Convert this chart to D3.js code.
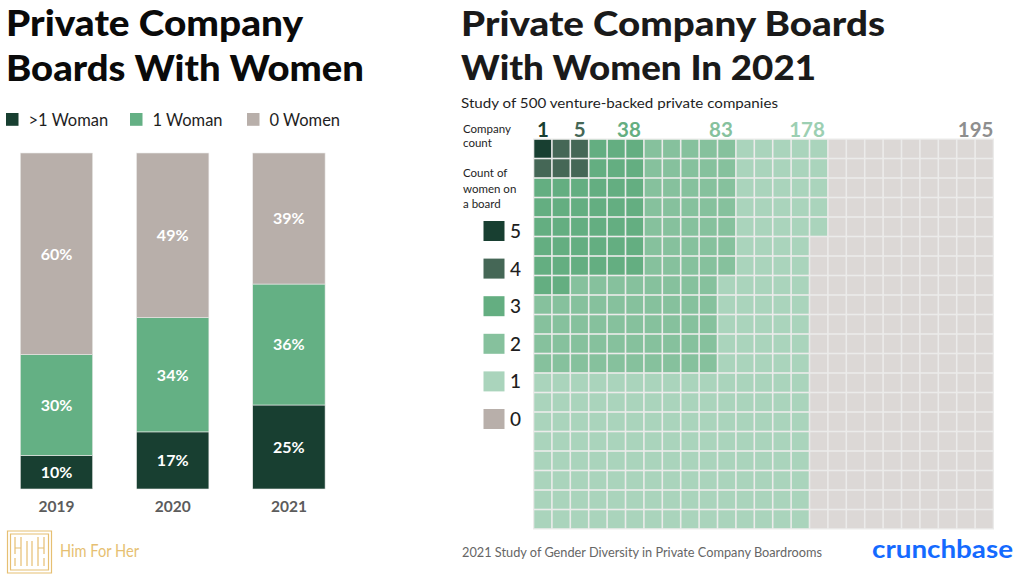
<!DOCTYPE html>
<html><head><meta charset="utf-8">
<script src="https://cdn.jsdelivr.net/npm/d3@7"></script>
<style>
html,body{margin:0;padding:0;background:#fff;}
svg{display:block;font-family:Lato,"Noto Sans",sans-serif;}
</style></head>
<body><svg id="c" width="1024" height="578"></svg>
<script>
// ---------- data: left chart ----------
const years = ["2019", "2020", "2021"];
const seriesNames = [">1 Woman", "1 Woman", "0 Women"];
const moreThanOne = [10, 17, 25];
const oneWoman = [30, 34, 36];
const zeroWomen = [60, 49, 39];
const barColors = ["#183f31", "#64b084", "#b8afaa"];

// ---------- data: waffle ----------
const womenLevels = [5, 4, 3, 2, 1, 0];
const companyCounts = [1, 5, 38, 83, 178, 195];
const levelColors = ["#183f31", "#456756", "#64ae81", "#86c19d", "#aad4bc", "#dcd8d6"];
const legendColors = ["#183f31", "#456756", "#64ae81", "#86c19d", "#aad4bc", "#b8afaa"];
const countLabelColors = ["#183f31", "#456756", "#64ae81", "#86c19d", "#9ccfb2", "#8e8e8e"];
// cells per grid row occupied by boards with at least N women
const rowsAtLeast5 = [1];
const rowsAtLeast4 = [3, 3];
const rowsAtLeast3 = [6, 6, 6, 6, 6, 6, 6, 2];
const rowsAtLeast2 = [11, 11, 11, 11, 11, 11, 11, 10, 10, 10, 10, 10];
const rowsAtLeast1 = [16, 16, 16, 16, 16, 15, 15, 15, 15, 15, 15, 15, 15, 15, 15, 15, 15, 15, 15, 15];
const gridCols = 25, gridRows = 20;

const svg = d3.select("#c");

function fitText(sel, width) {
  sel.each(function () {
    const w = this.getComputedTextLength();
    if (w > 0) d3.select(this).attr("textLength", width).attr("lengthAdjust", "spacingAndGlyphs");
  });
}

// ---------- left titles ----------
const tl = svg.append("g").attr("font-weight", 900).attr("fill", "#0a0a0a").attr("font-size", 36);
tl.append("text").attr("x", 6).attr("y", 36).text("Private Company").call(fitText, 297);
tl.append("text").attr("x", 6).attr("y", 81).text("Boards With Women").call(fitText, 358);

// left legend
const legX = [6, 130, 247];
const lg = svg.append("g");
seriesNames.forEach((n, i) => {
  lg.append("rect").attr("x", legX[i]).attr("y", 113).attr("width", 12.5).attr("height", 12.8).attr("fill", barColors[i]);
  lg.append("text").attr("x", legX[i] + 22.5).attr("y", 126).attr("font-size", 16.5).attr("fill", "#1e1e1e").text(n);
});

// bars
const x = d3.scaleBand().domain(years).range([20.3, 325.1]).paddingInner(0.377).paddingOuter(0);
const y = d3.scaleLinear().domain([0, 100]).range([489, 153]);
const table = years.map((yr, i) => ({ year: yr, ">1 Woman": moreThanOne[i], "1 Woman": oneWoman[i], "0 Women": zeroWomen[i] }));
const stacked = d3.stack().keys(seriesNames)(table);
const bars = svg.append("g");
stacked.forEach((s, si) => {
  const g = bars.append("g");
  g.selectAll("rect").data(s).join("rect")
    .attr("x", d => x(d.data.year)).attr("width", x.bandwidth())
    .attr("y", d => y(d[1])).attr("height", d => y(d[0]) - y(d[1]))
    .attr("fill", barColors[si]).attr("stroke", "#ecebea").attr("stroke-width", 0.6);
  g.selectAll("text").data(s).join("text")
    .attr("x", d => x(d.data.year) + x.bandwidth() / 2)
    .attr("y", d => (y(d[0]) + y(d[1])) / 2 + 5.8)
    .attr("text-anchor", "middle").attr("fill", "#fff").attr("font-weight", 700).attr("font-size", 16)
    .text(d => (d[1] - d[0]) + "%");
});
svg.append("g").selectAll("text").data(years).join("text")
  .attr("x", d => x(d) + x.bandwidth() / 2).attr("y", 512)
  .attr("text-anchor", "middle").attr("font-size", 15.5).attr("font-weight", 700).attr("fill", "#5c5c5c")
  .text(d => d);

// Him For Her logo
const gold = "#e6bf72";
const lo = svg.append("g").attr("stroke", gold).attr("fill", "none").attr("stroke-width", 1.2);
lo.append("path").attr("d", "M7.5,531 H51.5 V573 H7.5 Z M10.5,534 H48.5 V570 H10.5 Z");
lo.append("path").attr("d", "M15,537 V554 M21,537 V566 M15,548 H21 M15,558 V566 M27,541 V566 M32,541 V566 M38,537 V566 M44,537 V554 M38,548 H44 M44,558 V566");
svg.append("text").attr("x", 60).attr("y", 557).attr("font-size", 16.5).attr("font-weight", 400).attr("fill", gold).text("Him For Her").call(fitText, 79);

// ---------- right titles ----------
const tr = svg.append("g").attr("font-weight", 900).attr("fill", "#1a1a1a").attr("font-size", 35);
tr.append("text").attr("x", 461).attr("y", 36).text("Private Company Boards").call(fitText, 424);
tr.append("text").attr("x", 461).attr("y", 80).text("With Women In 2021").call(fitText, 355);
svg.append("text").attr("x", 461).attr("y", 108).attr("font-size", 14).attr("fill", "#1e1e1e")
  .text("Study of 500 venture-backed private companies").call(fitText, 317);

// side labels
const side = svg.append("g").attr("font-size", 11.5).attr("fill", "#1e1e1e");
[["Company", 133], ["count", 147], ["Count of", 177], ["women on", 192.5], ["a board", 208]].forEach(([t, yy]) =>
  side.append("text").attr("x", 463).attr("y", yy).text(t));

// ---------- waffle ----------
const cx = d3.scaleBand().domain(d3.range(gridCols)).range([533.5, 993.5]);
const cy = d3.scaleBand().domain(d3.range(gridRows)).range([139, 529]);
const regions = [rowsAtLeast5, rowsAtLeast4, rowsAtLeast3, rowsAtLeast2, rowsAtLeast1];
const cells = [];
for (let r = 0; r < gridRows; r++) for (let c = 0; c < gridCols; c++) {
  let li = regions.findIndex(reg => c < (reg[r] || 0));
  if (li < 0) li = 5;
  cells.push({ r, c, li });
}
const wg = svg.append("g");
wg.append("rect").attr("x", 533).attr("y", 138.5).attr("width", 461).attr("height", 391).attr("fill", "#ebebea");
wg.selectAll("rect.cell").data(cells).join("rect").attr("class", "cell")
  .attr("x", d => cx(d.c) + 0.8).attr("y", d => cy(d.r) + 0.8)
  .attr("width", cx.bandwidth() - 1.6).attr("height", cy.bandwidth() - 1.6)
  .attr("fill", d => levelColors[d.li]);

// company count labels
const blockEnd = regions.map(reg => d3.max(reg)).concat([gridCols]);
svg.append("g").selectAll("text").data(companyCounts).join("text")
  .attr("x", (d, i) => (i === 5 ? cx.range()[1] : cx(blockEnd[i] - 1) + cx.bandwidth()) - (i === 5 ? 0 : 3))
  .attr("y", 137).attr("text-anchor", "end").attr("font-size", 20.5).attr("font-weight", 700)
  .attr("fill", (d, i) => countLabelColors[i]).text(d => d);

// right legend
const ly = d3.scalePoint().domain(womenLevels).range([231, 419]);
const rl = svg.append("g");
rl.selectAll("rect").data(womenLevels).join("rect")
  .attr("x", 483.5).attr("y", d => ly(d) - 10).attr("width", 21).attr("height", 20)
  .attr("fill", (d, i) => legendColors[i]);
rl.selectAll("text").data(womenLevels).join("text")
  .attr("x", 510).attr("y", d => ly(d) + 7).attr("font-size", 19).attr("font-weight", 500).attr("fill", "#1e1e1e")
  .text(d => d);

// footer
svg.append("text").attr("x", 462).attr("y", 557).attr("font-size", 12.5).attr("fill", "#666")
  .text("2021 Study of Gender Diversity in Private Company Boardrooms").call(fitText, 360);
svg.append("text").attr("x", 872).attr("y", 558).attr("font-size", 24).attr("font-weight", 700).attr("fill", "#146aff")
  .text("crunchbase").call(fitText, 141);
</script></body></html>
